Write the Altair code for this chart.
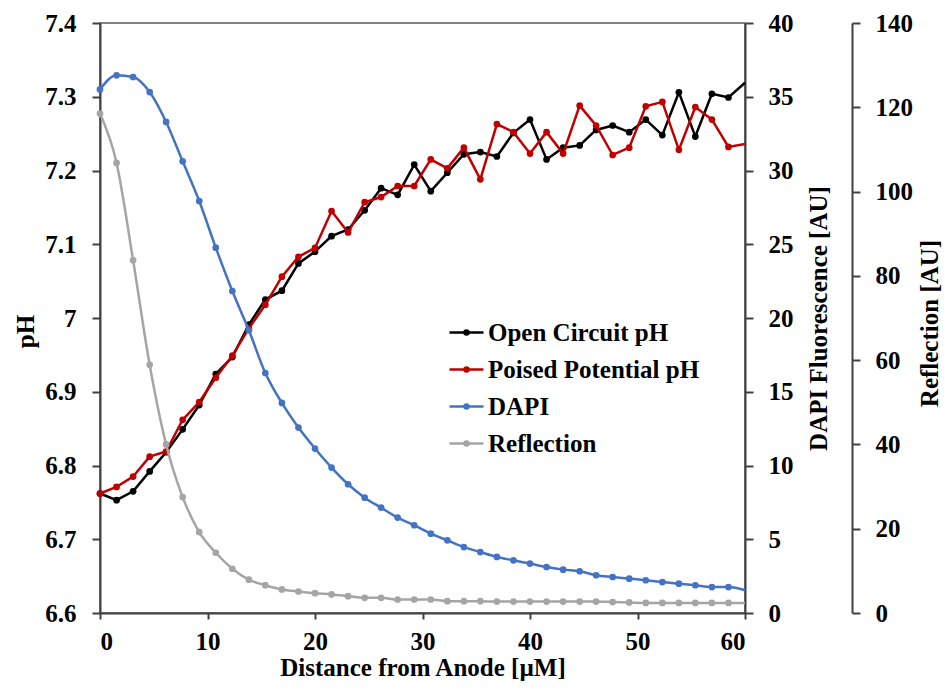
import altair as alt
import pandas as pd

# ---------------- data ----------------
x_um = [0.0, 1.54, 3.08, 4.62, 6.15, 7.69, 9.23, 10.77, 12.31, 13.85,
        15.38, 16.92, 18.46, 20.0, 21.54, 23.08, 24.62, 26.15, 27.69, 29.23,
        30.77, 32.31, 33.85, 35.38, 36.92, 38.46, 40.0, 41.54, 43.08, 44.62,
        46.15, 47.69, 49.23, 50.77, 52.31, 53.85, 55.38, 56.92, 58.46, 60.0]

open_circuit_ph = [6.762, 6.753, 6.765, 6.792, 6.818, 6.849, 6.882, 6.924, 6.947, 6.991,
                   7.025, 7.037, 7.074, 7.090, 7.111, 7.120, 7.146, 7.176, 7.167, 7.208,
                   7.172, 7.197, 7.222, 7.225, 7.219, 7.251, 7.269, 7.215, 7.231, 7.234,
                   7.255, 7.261, 7.252, 7.269, 7.248, 7.306, 7.246, 7.304, 7.299, 7.319]

poised_ph = [6.762, 6.771, 6.785, 6.812, 6.819, 6.862, 6.886, 6.919, 6.949, 6.986,
             7.018, 7.056, 7.083, 7.095, 7.145, 7.116, 7.157, 7.164, 7.179, 7.179,
             7.215, 7.203, 7.231, 7.188, 7.263, 7.252, 7.223, 7.252, 7.223, 7.288,
             7.261, 7.221, 7.231, 7.287, 7.293, 7.228, 7.286, 7.269, 7.232, 7.236]

dapi = [35.5, 36.45, 36.34, 35.32, 33.29, 30.62, 27.93, 24.77, 21.83, 19.17,
        16.27, 14.24, 12.57, 11.15, 9.86, 8.73, 7.82, 7.14, 6.47, 5.95,
        5.38, 4.93, 4.47, 4.13, 3.80, 3.57, 3.35, 3.12, 2.94, 2.83,
        2.56, 2.44, 2.33, 2.22, 2.10, 1.99, 1.88, 1.76, 1.76, 1.54]

reflection = [118.5, 106.8, 83.7, 58.9, 40.0, 27.5, 19.2, 14.3, 10.5, 7.9,
              6.6, 5.6, 5.1, 4.7, 4.4, 4.0, 3.6, 3.6, 3.2, 3.2,
              3.2, 2.8, 2.8, 2.8, 2.7, 2.7, 2.7, 2.7, 2.7, 2.7,
              2.7, 2.6, 2.5, 2.4, 2.4, 2.4, 2.4, 2.4, 2.4, 2.4]

series_names = ["Open Circuit pH", "Poised Potential pH", "DAPI", "Reflection"]
series_colors = ["#000000", "#C00000", "#4472C4", "#A5A5A5"]

x_ticks = [0, 10, 20, 30, 40, 50, 60]
ph_ticks = [6.6, 6.7, 6.8, 6.9, 7.0, 7.1, 7.2, 7.3, 7.4]
dapi_ticks = [0, 5, 10, 15, 20, 25, 30, 35, 40]
refl_ticks = [0, 20, 40, 60, 80, 100, 120, 140]

rows = []
for name, vals in zip(series_names, [open_circuit_ph, poised_ph, dapi, reflection]):
    for xv, v in zip(x_um, vals):
        rows.append({"x": xv, "series": name, "value": v})
df = pd.DataFrame(rows)

# ---------------- styling ----------------
FONT = "Liberation Serif"
AX = dict(
    grid=False,
    domainColor="#404040", domainWidth=2,
    tickColor="#404040", tickWidth=2,
    labelFont=FONT, labelFontSize=25, labelFontWeight="bold", labelColor="#000000",
    titleFont=FONT, titleFontSize=25, titleFontWeight="bold", titleColor="#000000",
)

legend_symbol = "M-1,0H1M0.12,0A0.12,0.12,0,1,1,-0.12,0A0.12,0.12,0,1,1,0.12,0Z"

color = alt.Color(
    "series:N",
    scale=alt.Scale(domain=series_names, range=series_colors),
    legend=alt.Legend(
        title=None, orient="none", legendX=348, legendY=291,
        symbolType=legend_symbol, symbolSize=1156, symbolStrokeWidth=2.5,
        labelFont=FONT, labelFontSize=25, labelFontWeight="bold", labelColor="#000000",
        labelOffset=3, rowPadding=5, padding=0, labelLimit=500,
    ),
)

x_enc = alt.X(
    "x:Q",
    scale=alt.Scale(domain=[0, 60], nice=False),
    axis=alt.Axis(values=x_ticks, title="Distance from Anode [µM]", tickSize=6,
                  labelPadding=10, titleY=62, titleBaseline="alphabetic", **AX),
)

ph_y = alt.Y(
    "value:Q",
    scale=alt.Scale(domain=[6.6, 7.4], nice=False, zero=False),
    axis=alt.Axis(orient="left", values=ph_ticks, format=".1~f", title="pH",
                  tickSize=8, labelPadding=16, titleAngle=270, titleX=-67, titleY=308,
                  titleBaseline="alphabetic", **AX),
)

dapi_y = alt.Y(
    "value:Q",
    scale=alt.Scale(domain=[0, 40], nice=False),
    axis=alt.Axis(orient="right", values=dapi_ticks, title="DAPI Fluorescence [AU]",
                  tickSize=8, labelPadding=15, titleAngle=270, titleX=81, titleY=295,
                  titleBaseline="alphabetic", **AX),
)

refl_y = alt.Y(
    "value:Q",
    scale=alt.Scale(domain=[0, 140], nice=False),
    axis=alt.Axis(orient="right", offset=107, values=refl_ticks, title="Reflection [AU]",
                  tickSize=8, labelPadding=15, titleAngle=270, titleX=85, titleY=300,
                  titleBaseline="alphabetic", **AX),
)


def series_layer(name, y_enc, interp):
    base = alt.Chart(df).transform_filter(alt.datum.series == name)
    line = base.mark_line(strokeWidth=2.5, interpolate=interp).encode(
        x=x_enc, y=y_enc, color=color)
    pts = base.transform_filter(alt.datum.x < 59).mark_point(
        filled=True, size=45, opacity=1).encode(x=x_enc, y=y_enc, color=color)
    return [line, pts]


ph_layer = alt.layer(*(series_layer("Open Circuit pH", ph_y, "linear")
                       + series_layer("Poised Potential pH", ph_y, "linear")))
dapi_layer = alt.layer(*series_layer("DAPI", dapi_y, "monotone"))
refl_layer = alt.layer(*series_layer("Reflection", refl_y, "monotone"))

chart = alt.layer(ph_layer, dapi_layer, refl_layer).resolve_scale(
    y="independent"
).properties(
    width=645, height=590,
    autosize=alt.AutoSizeParams(type="none"),
    padding={"left": 100, "top": 23, "right": 200, "bottom": 81},
    background="#ffffff",
).configure_view(
    stroke="#595959", strokeWidth=1.5
).configure_axis(
    labelFont=FONT, labelFontSize=25, labelFontWeight="bold", labelColor="#000000",
    titleFont=FONT, titleFontSize=25, titleFontWeight="bold", titleColor="#000000",
).configure_text(font=FONT)

chart.save("out.html", embed_options={"renderer": "svg", "actions": False})
